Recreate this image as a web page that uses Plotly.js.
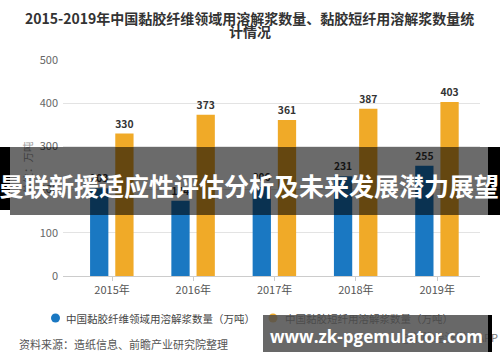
<!DOCTYPE html>
<html>
<head>
<meta charset="utf-8">
<script src="https://cdn.plot.ly/plotly-3.0.1.min.js"></script>
<style>html,body{margin:0;padding:0;background:#fff;}#chart{width:500px;height:362px;}</style>
</head>
<body>
<div id="chart"></div>
<script>
// ---- data ----
const years = ['2015年', '2016年', '2017年', '2018年', '2019年'];
const seriesNames = ['中国黏胶纤维领域用溶解浆数量（万吨）', '中国黏胶短纤用溶解浆数量（万吨）'];
const viscoseFiberPulp = [203, 174, 206, 231, 255];
const stapleFiberPulp = [330, 373, 361, 387, 403];
const yTicks = [0, 100, 200, 300, 400, 500];
const titleLine1 = '2015-2019年中国黏胶纤维领域用溶解浆数量、黏胶短纤用溶解浆数量统';
const titleLine2 = '计情况';
const yUnit = '单位：万吨';
const sourceText = '资料来源：造纸信息、前瞻产业研究院整理';
const creditText = '@前瞻经济学人APP';
const bannerText = '曼联新援适应性评估分析及未来发展潜力展望';
const watermarkText = 'www.zk-pgemulator.com';

// ---- layout helpers (pixel -> paper) ----
const L = 63, R = 480, T = 60, B = 276;
const px = x => (x - L) / (R - L);
const py = y => (B - y) / (B - T);
const CJK = '"Noto Sans CJK SC", "Noto Sans", sans-serif';
const BLUE = '#1a78c2', ORANGE = '#f0aa28';

const traces = [
  {
    type: 'bar', x: years, y: viscoseFiberPulp, name: seriesNames[0],
    marker: {color: BLUE}, width: 0.225, offset: -0.27,
    text: viscoseFiberPulp.map(String), textposition: 'outside', cliponaxis: false,
    textfont: {family: CJK, size: 11, color: '#333', weight: 700},
    hoverinfo: 'none', showlegend: false
  },
  {
    type: 'bar', x: years, y: stapleFiberPulp, name: seriesNames[1],
    marker: {color: ORANGE}, width: 0.225, offset: 0.04,
    text: stapleFiberPulp.map(String), textposition: 'outside', cliponaxis: false,
    textfont: {family: CJK, size: 11, color: '#333', weight: 700},
    hoverinfo: 'none', showlegend: false
  }
];

function box(x0, y0, x1, y1, color) {
  return {xref: 'paper', yref: 'paper', x: px(x0), y: py(y0), xanchor: 'left', yanchor: 'top',
    width: x1 - x0, height: y1 - y0, bgcolor: color, borderpad: 0, borderwidth: 0,
    text: ' ', showarrow: false, font: {size: 1}};
}
function label(x, y, text, size, color, opts) {
  return Object.assign({xref: 'paper', yref: 'paper', x: px(x), y: py(y), text: text, showarrow: false,
    xanchor: 'center', yanchor: 'middle', font: {family: CJK, size: size, color: color}}, opts || {});
}

const annotations = [
  label(249, 18, titleLine1, 14, '#333', {font: {family: CJK, size: 14, color: '#333', weight: 700}}),
  label(250, 31, titleLine2, 14, '#333', {font: {family: CJK, size: 14, color: '#333', weight: 700}}),
  label(27, 168, yUnit, 10.5, '#999', {textangle: -90}),
  label(64, 318, seriesNames[0], 10.5, '#444', {xanchor: 'left'}),
  label(283, 318, seriesNames[1], 10.5, '#444', {xanchor: 'left'}),
  label(17, 344, sourceText, 11, '#555', {xanchor: 'left'}),
  label(500, 337, creditText, 11, '#777', {xanchor: 'right'}),
  box(263, 315, 488, 352, 'rgba(78,78,78,0.85)'),
  box(488, 315, 492, 352, '#000'),
  label(376, 336, watermarkText, 17, '#fff', {font: {family: '"Open Sans", sans-serif', size: 17, color: '#fff', weight: 700}}),
  box(0, 147, 10, 210, '#000'),
  box(488, 147, 500, 215, '#000'),
  box(10, 147, 488, 215, 'rgba(0,0,0,0.58)'),
  label(249, 185, bannerText, 25, '#fff', {font: {family: CJK, size: 25, color: '#fff', weight: 700}})
];

const shapes = [
  {type: 'circle', xref: 'paper', yref: 'paper', x0: px(51), x1: px(60), y0: py(313.5), y1: py(322.5),
    fillcolor: BLUE, line: {width: 0}},
  {type: 'circle', xref: 'paper', yref: 'paper', x0: px(268.5), x1: px(277.5), y0: py(313.5), y1: py(322.5),
    fillcolor: ORANGE, line: {width: 0}}
];

const layout = {
  width: 500, height: 362,
  margin: {l: L, r: 500 - R, t: T, b: 362 - B, pad: 0},
  paper_bgcolor: '#fff', plot_bgcolor: '#fff',
  showlegend: false,
  xaxis: {
    type: 'category', range: [-0.603, 4.527], fixedrange: true,
    showline: true, linecolor: '#ccc', linewidth: 1,
    ticks: 'outside', ticklen: 4, tickcolor: '#ccc',
    tickfont: {family: CJK, size: 11, color: '#555'},
    showgrid: false, zeroline: false
  },
  yaxis: {
    range: [0, 500], tickvals: yTicks, ticktext: yTicks.map(String),
    tickfont: {family: CJK, size: 11, color: '#666'},
    showgrid: true, gridcolor: '#e3e3e3', gridwidth: 1,
    zeroline: false, showline: false, ticks: '', ticklabelstandoff: 4
  },
  annotations: annotations,
  shapes: shapes,
  font: {family: CJK}
};

Plotly.newPlot('chart', traces, layout, {displayModeBar: false, staticPlot: true});
</script>
</body>
</html>
